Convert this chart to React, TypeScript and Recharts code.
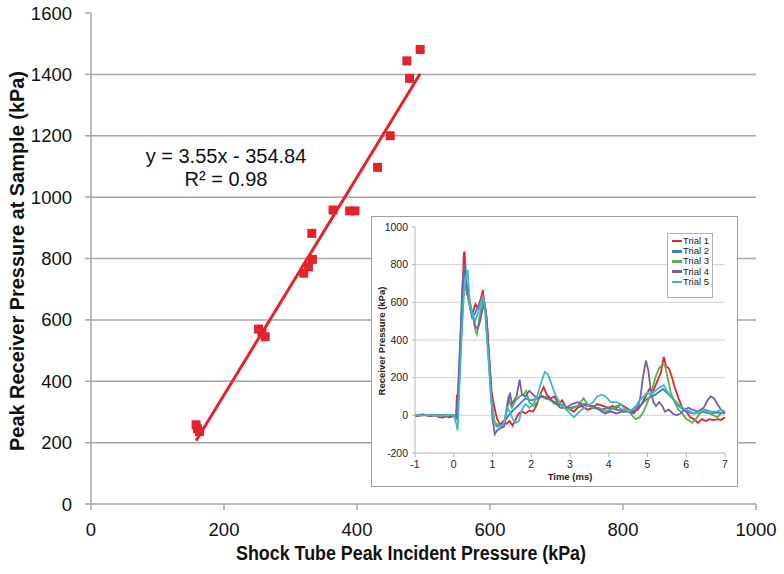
import React from 'react';
import {
  ScatterChart, Scatter, XAxis, YAxis, CartesianGrid,
  LineChart, Line, Legend,
} from 'recharts';

// ---- Main chart data ----
const xTicks = [0, 200, 400, 600, 800, 1000];
const yTicks = [0, 200, 400, 600, 800, 1000, 1200, 1400, 1600];
const gridValues = [200, 400, 600, 800, 1000, 1200, 1400];

const incidentPressure = [158, 160, 163, 252, 257, 262, 320, 327, 333, 332, 364, 389, 397, 431, 450, 475, 479, 495];
const receiverPressure = [258, 245, 236, 570, 560, 545, 752, 773, 797, 882, 958, 955, 955, 1097, 1200, 1444, 1387, 1481];

const trendX = [158, 495];
const trendY = [206, 1402];

const equationLine1 = 'y = 3.55x - 354.84';
const equationLine2 = 'R² = 0.98';

// ---- Inset data (time ms, pressure kPa) ----
const insetXTicks = [-1, 0, 1, 2, 3, 4, 5, 6, 7];
const insetYTicks = [-200, 0, 200, 400, 600, 800, 1000];
const insetGrid = [0, 200, 400, 600, 800];
const trialNames = ['Trial 1', 'Trial 2', 'Trial 3', 'Trial 4', 'Trial 5'];
const trialColors = ['#e3232b', '#3f7cc4', '#5ab04a', '#7b5ca8', '#3cb8d2'];

const trial1: number[][] = [[-1,5],[-0.9,-3],[-0.8,4],[-0.7,0],[-0.6,-5],[-0.5,2],[-0.4,-8],[-0.3,-12],[-0.2,-5],[-0.1,-10],[0,-3],[0.06,-5],[0.08,110],[0.12,80],[0.17,330],[0.22,600],[0.26,860],[0.28,870],[0.31,700],[0.34,640],[0.38,660],[0.43,560],[0.5,550],[0.56,590],[0.62,570],[0.7,620],[0.75,665],[0.79,600],[0.85,520],[0.92,300],[0.98,120],[1.05,40],[1.12,-20],[1.2,-50],[1.28,-30],[1.36,-45],[1.44,-30],[1.52,-55],[1.6,-20],[1.68,10],[1.76,20],[1.85,10],[1.95,25],[2.05,20],[2.15,60],[2.25,120],[2.32,150],[2.4,110],[2.5,90],[2.6,100],[2.7,60],[2.8,80],[2.9,40],[3.0,30],[3.1,20],[3.2,40],[3.3,50],[3.45,30],[3.6,40],[3.7,60],[3.85,50],[4.0,40],[4.1,50],[4.2,40],[4.3,60],[4.45,40],[4.6,20],[4.75,30],[4.85,60],[4.95,100],[5.05,140],[5.15,130],[5.25,180],[5.35,230],[5.42,310],[5.48,260],[5.55,250],[5.62,210],[5.7,150],[5.8,90],[5.9,40],[6.0,20],[6.1,-10],[6.2,-20],[6.3,-40],[6.4,-20],[6.5,-30],[6.6,-20],[6.7,-25],[6.8,-20],[6.9,-25],[7.0,-10]];
const trial2: number[][] = [[-1,0],[-0.8,3],[-0.6,-2],[-0.4,2],[-0.2,-4],[0,0],[0.08,-10],[0.12,150],[0.18,420],[0.24,700],[0.3,800],[0.34,660],[0.4,600],[0.47,520],[0.55,540],[0.62,580],[0.7,600],[0.76,620],[0.82,560],[0.9,320],[0.97,80],[1.05,-40],[1.15,-60],[1.25,-50],[1.35,-20],[1.45,10],[1.55,30],[1.7,60],[1.85,90],[2.0,80],[2.15,90],[2.3,100],[2.45,90],[2.6,70],[2.8,50],[3.0,40],[3.2,50],[3.4,60],[3.6,40],[3.8,30],[4.0,40],[4.2,30],[4.4,20],[4.6,30],[4.8,50],[5.0,90],[5.2,110],[5.4,140],[5.6,100],[5.8,50],[6.0,20],[6.2,10],[6.4,20],[6.6,10],[6.8,15],[7.0,10]];
const trial3: number[][] = [[-1,0],[-0.8,5],[-0.6,0],[-0.4,3],[-0.2,-2],[0,2],[0.08,-20],[0.14,200],[0.2,450],[0.26,650],[0.32,720],[0.37,620],[0.43,560],[0.5,520],[0.56,450],[0.6,430],[0.66,520],[0.72,580],[0.77,610],[0.82,540],[0.9,300],[0.98,60],[1.06,-40],[1.15,-50],[1.25,-60],[1.32,-20],[1.4,90],[1.5,40],[1.6,80],[1.7,100],[1.8,110],[1.87,130],[1.95,70],[2.05,50],[2.15,70],[2.25,110],[2.35,90],[2.5,80],[2.6,60],[2.7,70],[2.85,50],[3.0,30],[3.1,40],[3.2,50],[3.35,90],[3.45,60],[3.6,40],[3.75,40],[3.9,20],[4.05,30],[4.2,50],[4.35,30],[4.5,30],[4.6,0],[4.7,-20],[4.8,-10],[4.9,20],[5.0,70],[5.1,120],[5.2,200],[5.3,250],[5.38,270],[5.45,265],[5.52,200],[5.6,120],[5.7,70],[5.8,30],[5.9,10],[6.0,-20],[6.1,-30],[6.15,-40],[6.25,-20],[6.35,10],[6.5,30],[6.6,10],[6.7,0],[6.8,-10],[6.9,10],[7.0,15]];
const trial4: number[][] = [[-1,-5],[-0.8,3],[-0.6,-3],[-0.4,0],[-0.2,4],[0,-2],[0.08,-15],[0.12,180],[0.17,420],[0.23,720],[0.28,800],[0.32,700],[0.37,650],[0.42,600],[0.5,520],[0.56,470],[0.62,460],[0.68,500],[0.74,560],[0.8,600],[0.86,470],[0.93,250],[1.0,-20],[1.06,-100],[1.12,-80],[1.2,-70],[1.3,-60],[1.38,40],[1.45,120],[1.5,60],[1.56,80],[1.62,100],[1.7,190],[1.76,110],[1.85,100],[1.95,130],[2.05,110],[2.15,90],[2.3,100],[2.45,90],[2.6,70],[2.75,40],[2.9,40],[3.05,60],[3.2,70],[3.3,60],[3.45,50],[3.6,50],[3.75,30],[3.9,10],[4.05,20],[4.2,10],[4.35,20],[4.5,20],[4.65,10],[4.75,40],[4.82,100],[4.88,200],[4.96,290],[5.02,240],[5.08,140],[5.15,70],[5.22,50],[5.3,70],[5.38,50],[5.45,20],[5.55,30],[5.65,10],[5.75,0],[5.85,10],[5.95,30],[6.05,40],[6.15,30],[6.3,20],[6.45,40],[6.55,80],[6.63,100],[6.72,90],[6.8,60],[6.9,30],[7.0,10]];
const trial5: number[][] = [[-1,3],[-0.8,-2],[-0.6,4],[-0.4,-3],[-0.2,2],[0,0],[0.06,-40],[0.1,-80],[0.14,120],[0.2,400],[0.26,650],[0.32,740],[0.36,770],[0.41,600],[0.48,540],[0.55,500],[0.62,540],[0.7,600],[0.75,630],[0.8,580],[0.88,350],[0.96,100],[1.04,-40],[1.1,-60],[1.2,-60],[1.3,-40],[1.38,40],[1.45,20],[1.52,-20],[1.6,-40],[1.68,-30],[1.76,30],[1.85,60],[1.95,40],[2.05,60],[2.15,100],[2.25,170],[2.35,230],[2.42,220],[2.5,180],[2.6,120],[2.7,80],[2.8,50],[2.9,30],[3.0,10],[3.1,-10],[3.2,10],[3.3,30],[3.45,50],[3.6,70],[3.7,100],[3.82,110],[3.92,100],[4.05,70],[4.2,70],[4.3,60],[4.4,40],[4.5,20],[4.6,30],[4.7,50],[4.8,80],[4.9,100],[5.0,120],[5.1,110],[5.2,130],[5.32,150],[5.42,160],[5.5,130],[5.6,100],[5.7,80],[5.8,60],[5.9,40],[6.0,30],[6.1,20],[6.2,10],[6.35,20],[6.5,30],[6.65,20],[6.8,20],[6.9,30],[7.0,20]];

const trials = [trial1, trial2, trial3, trial4, trial5].map((arr) => arr.map(([t, v]) => ({ t, v })));

const points = incidentPressure.map((x, i) => ({ x, y: receiverPressure[i] }));
const trend = trendX.map((x, i) => ({ x, y: trendY[i] }));

const RED = '#e3232b';
const FONT = '"Liberation Sans", Arial, sans-serif';
const AXIS_GREY = '#a6a6a6';

const Square = (props: any) => {
  const { cx, cy } = props;
  return <rect x={cx - 4.5} y={cy - 4.5} width={9} height={9} fill={RED} />;
};
const NoShape = () => <g />;

const InsetLegend = () => (
  <div style={{ border: '1px solid #b0b0b0', background: '#fff', padding: '2px 3px 10px 4px', fontFamily: FONT, fontSize: 9.5, color: '#222', lineHeight: '10.2px' }}>
    {trialNames.map((n, i) => (
      <div key={n} style={{ display: 'flex', alignItems: 'center', whiteSpace: 'nowrap' }}>
        <span style={{ display: 'inline-block', width: 10, height: 2.5, background: trialColors[i], marginRight: 1 }} />
        {n}
      </div>
    ))}
  </div>
);

export default function App() {
  return (
    <div style={{ position: 'absolute', left: 0, top: 0, width: 784, height: 574, background: '#fff', fontFamily: FONT }}>
      <ScatterChart width={784} height={574} margin={{ top: 13, right: 28, bottom: 0, left: 0 }}>
        <CartesianGrid vertical={false} horizontalValues={gridValues} stroke={AXIS_GREY} strokeWidth={1.5} />
        <XAxis
          dataKey="x" type="number" domain={[0, 1000]} ticks={xTicks} height={70}
          stroke={AXIS_GREY} strokeWidth={1.5} tickSize={6} tickMargin={13}
          tick={{ fill: '#111', fontSize: 18.5, fontFamily: FONT }}
        />
        <YAxis
          dataKey="y" type="number" domain={[0, 1600]} ticks={yTicks} width={91}
          stroke={AXIS_GREY} strokeWidth={1.5} tickSize={6} tickMargin={13}
          tick={{ fill: '#111', fontSize: 18.5, fontFamily: FONT }}
        />
        <Scatter data={trend} line={{ stroke: RED, strokeWidth: 3 }} shape={NoShape} isAnimationActive={false} />
        <Scatter data={points} shape={Square} isAnimationActive={false} />
      </ScatterChart>

      <svg width={784} height={574} style={{ position: 'absolute', left: 0, top: 0, pointerEvents: 'none' }}>
        <text x={17} y={261} transform="rotate(-90 17 261)" textAnchor="middle" dominantBaseline="central"
          fontFamily={FONT} fontWeight="bold" fontSize={20} textLength={380} lengthAdjust="spacingAndGlyphs" fill="#111">Peak Receiver Pressure at Sample (kPa)</text>
        <text x={411} y={560} textAnchor="middle" fontFamily={FONT} fontWeight="bold" fontSize={20}
          textLength={350} lengthAdjust="spacingAndGlyphs" fill="#111">Shock Tube Peak Incident Pressure (kPa)</text>
        <text x={226} y={163} textAnchor="middle" fontFamily={FONT} fontSize={20} fill="#111">{equationLine1}</text>
        <text x={226} y={186} textAnchor="middle" fontFamily={FONT} fontSize={20} fill="#111">{equationLine2}</text>
      </svg>

      <div style={{ position: 'absolute', left: 371, top: 216, width: 365, height: 269, border: '1px solid #a0a0a0', background: '#fff' }}>
        <LineChart width={365} height={269} margin={{ top: 10, right: 12, bottom: 0, left: 0 }}>
          <CartesianGrid vertical={false} horizontalValues={insetGrid} stroke="#d4d4d4" strokeWidth={1} />
          <XAxis dataKey="t" type="number" domain={[-1, 7]} ticks={insetXTicks} height={33} allowDuplicatedCategory={false}
            stroke="#b5b5b5" tickSize={4} tickMargin={4} tick={{ fill: '#222', fontSize: 10.5, fontFamily: FONT }} />
          <YAxis type="number" domain={[-200, 1000]} ticks={insetYTicks} width={43}
            stroke="#b5b5b5" tickSize={3} tickMargin={4} tick={{ fill: '#222', fontSize: 10.5, fontFamily: FONT }} />
          {trials.map((d, i) => (
            <Line key={trialNames[i]} data={d} dataKey="v" name={trialNames[i]} stroke={trialColors[i]}
              strokeWidth={1.8} dot={false} isAnimationActive={false} />
          ))}
          <Legend layout="vertical" align="center" verticalAlign="middle" content={InsetLegend}
            wrapperStyle={{ left: 295, top: 16, width: 'auto', height: 'auto' }} />
        </LineChart>
        <svg width={365} height={269} style={{ position: 'absolute', left: 0, top: 0, pointerEvents: 'none' }}>
          <text x={9} y={124} transform="rotate(-90 9 124)" textAnchor="middle" dominantBaseline="central"
            fontFamily={FONT} fontWeight="bold" fontSize={9.5} fill="#222">Receiver Pressure (kPa)</text>
          <text x={198} y={263} textAnchor="middle" fontFamily={FONT} fontWeight="bold" fontSize={9.5} fill="#222">Time (ms)</text>
        </svg>
      </div>
    </div>
  );
}
